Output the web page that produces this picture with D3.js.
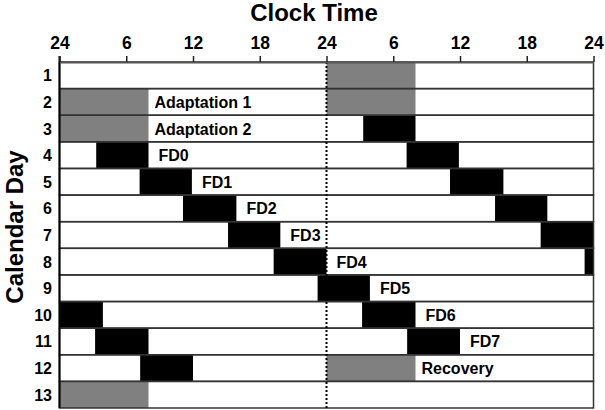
<!DOCTYPE html>
<html>
<head>
<meta charset="utf-8">
<script src="https://cdn.jsdelivr.net/npm/d3@7"></script>
<style>
  body { margin: 0; background: #fff; }
  text { font-family: "Liberation Sans", Arial, sans-serif; font-weight: bold; }
</style>
</head>
<body>
<svg id="chart" width="605" height="410"></svg>
<script>
// calendar days (rows) and clock ticks (hours over a 48h double plot)
const days = [1, 2, 3, 4, 5, 6, 7, 8, 9, 10, 11, 12, 13];
const tickHours = [0, 6, 12, 18, 24, 30, 36, 42, 48];
const tickLabels = ["24", "6", "12", "18", "24", "6", "12", "18", "24"];

// sleep episodes, hours counted from midnight starting day 1
const epNames = ["Adaptation 1", "Adaptation 2", "FD0", "FD1", "FD2", "FD3", "FD4", "FD5", "FD6", "FD7", "Recovery"];
const epStart = [24, 48, 75.3, 103.2, 131.1, 159.15, 187.25, 215.2, 243.2, 271.25, 288];
const epEnd   = [32, 56, 80, 107.9, 135.9, 163.85, 192, 219.9, 248, 276, 296];
const epKind  = ["rest", "rest", "sleep", "sleep", "sleep", "sleep", "sleep", "sleep", "sleep", "sleep", "rest"];
const epLabelDay = [2, 3, 4, 5, 6, 7, 8, 9, 10, 11, 12];

const svg = d3.select("#chart");
const margin = { top: 62, right: 11.5, bottom: 2, left: 59.5 };
const width = 605, height = 410;

const x = d3.scaleLinear().domain([0, 48]).range([margin.left, width - margin.right]);
const y = d3.scaleBand().domain(days).range([margin.top, height - margin.bottom]).padding(0);
const fillOf = { rest: "#808080", sleep: "#000000" };

// row backgrounds
svg.append("g").selectAll("rect").data(days).join("rect")
  .attr("x", x(0)).attr("y", d => y(d))
  .attr("width", x(48) - x(0)).attr("height", y.bandwidth())
  .attr("fill", "#fff");

// episodes, each row shows its own day and the next one
const segs = [];
days.forEach(day => {
  const t0 = (day - 1) * 24;
  epStart.forEach((s, i) => {
    const a = Math.max(s - t0, 0), b = Math.min(epEnd[i] - t0, 48);
    if (b > a) segs.push({ day: day, a: a, b: b, kind: epKind[i] });
  });
});
svg.append("g").selectAll("rect").data(segs).join("rect")
  .attr("x", d => x(d.a)).attr("y", d => y(d.day))
  .attr("width", d => x(d.b) - x(d.a)).attr("height", y.bandwidth())
  .attr("fill", d => fillOf[d.kind]);

// row outlines
svg.append("g").selectAll("rect").data(days).join("rect")
  .attr("x", x(0)).attr("y", d => y(d))
  .attr("width", x(48) - x(0)).attr("height", y.bandwidth())
  .attr("fill", "none").attr("stroke", "#333").attr("stroke-width", 1.5);

// dotted midnight line
svg.append("line")
  .attr("x1", x(24)).attr("x2", x(24))
  .attr("y1", margin.top).attr("y2", height - margin.bottom)
  .attr("stroke", "#000").attr("stroke-width", 2).attr("stroke-dasharray", "2,2");

// left edge
svg.append("line")
  .attr("x1", x(0)).attr("x2", x(0))
  .attr("y1", margin.top - 6).attr("y2", height - margin.bottom)
  .attr("stroke", "#000").attr("stroke-width", 2);

// episode labels
svg.append("g").selectAll("text").data(epNames).join("text")
  .attr("x", (d, i) => {
    const t0 = (epLabelDay[i] - 1) * 24;
    return x(epEnd[i] - t0) + (epKind[i] === "rest" ? 6 : 10);
  })
  .attr("y", (d, i) => y(epLabelDay[i]) + y.bandwidth() / 2 + 6)
  .attr("font-size", 16).attr("fill", "#000")
  .text(d => d);

// top axis
const xAxis = d3.axisTop(x).tickValues(tickHours)
  .tickFormat((d, i) => tickLabels[i]).tickSize(6).tickSizeOuter(0);
const ax = svg.append("g").attr("transform", `translate(0,${margin.top})`).call(xAxis);
ax.select(".domain").attr("stroke", "#555").attr("stroke-width", 2);
ax.selectAll(".tick line").attr("stroke", "#222").attr("stroke-width", 1.5);
ax.selectAll(".tick text").attr("font-size", 17.5).attr("fill", "#000")
  .attr("font-family", "Liberation Sans, Arial, sans-serif").attr("font-weight", "bold")
  .attr("dy", "-0.25em");

// day labels
svg.append("g").selectAll("text").data(days).join("text")
  .attr("x", 52).attr("y", d => y(d) + y.bandwidth() / 2 + 6)
  .attr("text-anchor", "end").attr("font-size", 16).attr("fill", "#000")
  .text(d => d);

// titles
svg.append("text").attr("x", 314).attr("y", 21)
  .attr("text-anchor", "middle").attr("font-size", 24).attr("fill", "#000")
  .text("Clock Time");
svg.append("text")
  .attr("transform", `translate(23,227) rotate(-90)`)
  .attr("text-anchor", "middle").attr("font-size", 24).attr("fill", "#000")
  .text("Calendar Day");
</script>
</body>
</html>
